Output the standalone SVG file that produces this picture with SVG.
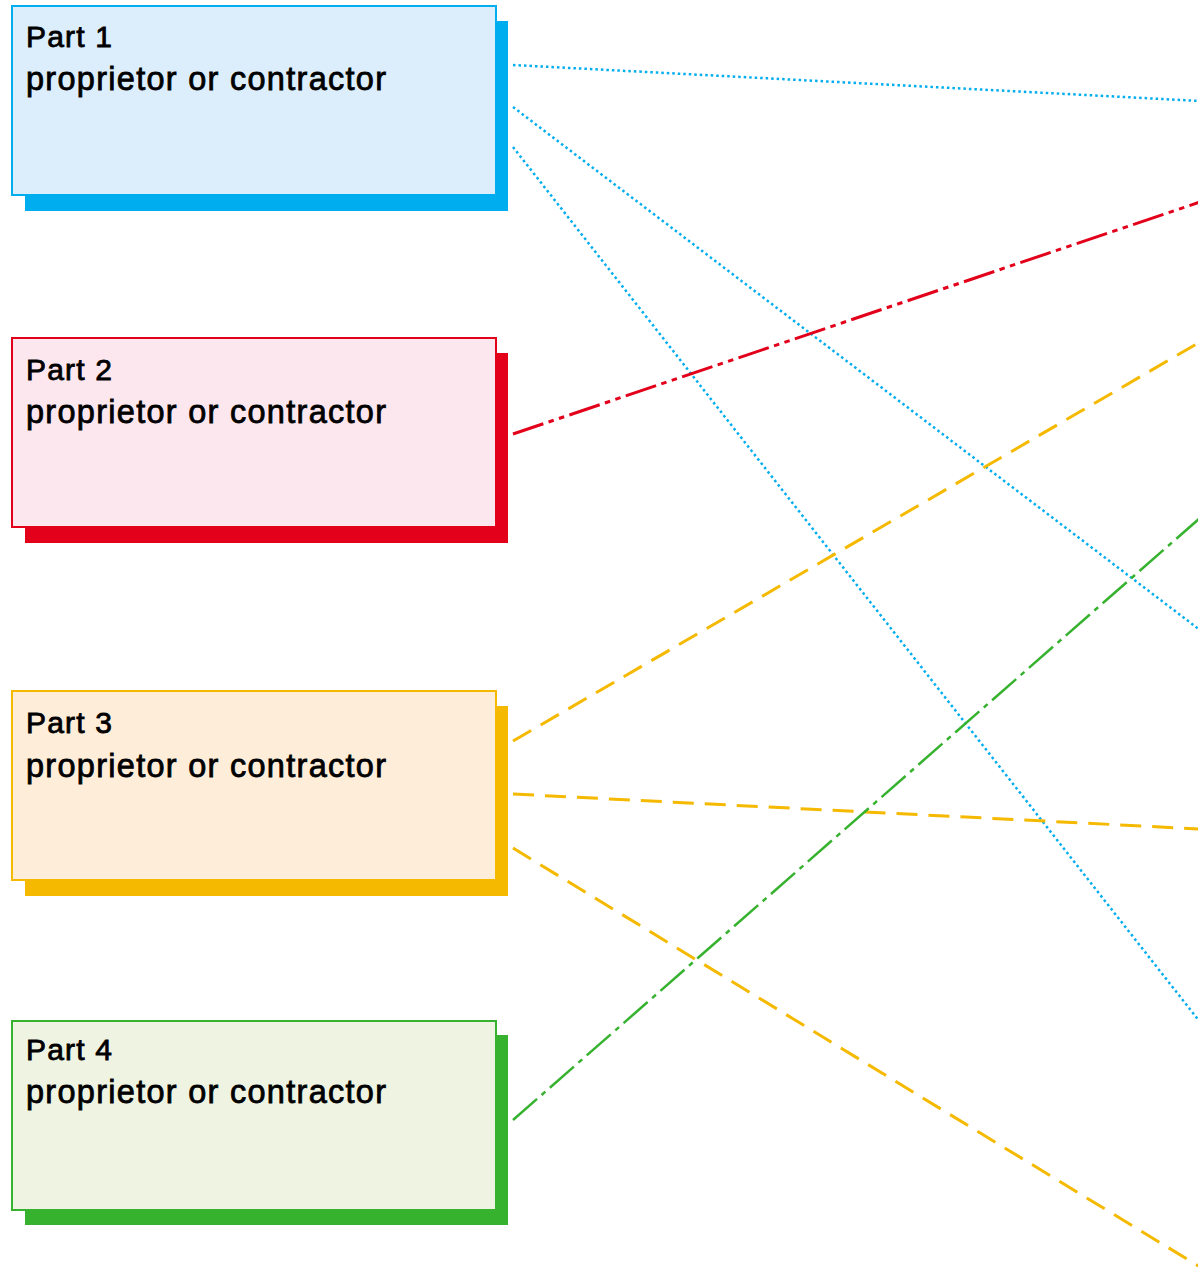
<svg xmlns="http://www.w3.org/2000/svg" width="1198" height="1267" viewBox="0 0 1198 1267">
  <style>
    .t1 { font-family: "Liberation Sans", Arial, sans-serif; font-size: 30px; fill: #000; stroke: #000; stroke-width: 0.8; }
    .t2 { font-family: "Liberation Sans", Arial, sans-serif; font-size: 32.5px; fill: #000; stroke: #000; stroke-width: 0.8; }
    .c { fill: none; }
    .blue { stroke: #00ADEF; stroke-width: 2.5; stroke-dasharray: 2.5 3; }
    .red { stroke: #E2001A; stroke-width: 3; stroke-dasharray: 32 5.5 5.5 5.5 5.5 5.5; }
    .yellow { stroke: #F5B900; stroke-width: 3; stroke-dasharray: 21 11; }
    .green { stroke: #36B22F; stroke-width: 2.5; stroke-dasharray: 32 6 5 6; }
  </style>
  <rect width="1198" height="1267" fill="#fff"/>
  <g id="connectors" class="c">
    <line class="blue" x1="513" y1="65" x2="1200" y2="101"/>
    <line class="blue" x1="513" y1="107" x2="1200" y2="630"/>
    <line class="blue" x1="513" y1="147" x2="1200" y2="1022"/>
    <line class="red" x1="513" y1="434" x2="1200" y2="202"/>
    <line class="yellow" x1="513" y1="741" x2="1200" y2="342"/>
    <line class="yellow" x1="513" y1="794" x2="1200" y2="829"/>
    <line class="yellow" x1="513" y1="848" x2="1200" y2="1267"/>
    <line class="green" x1="513" y1="1120" x2="1200" y2="518"/>
  </g>
  <g id="part1">
    <rect x="25" y="21" width="483" height="190" fill="#00ADEF"/>
    <rect x="12" y="6" width="484" height="189" fill="#DCEEFB" stroke="#00ADEF" stroke-width="2"/>
    <text class="t1" x="26" y="47" textLength="86" lengthAdjust="spacing">Part 1</text>
    <text class="t2" x="26" y="90" textLength="360" lengthAdjust="spacing">proprietor or contractor</text>
  </g>
  <g id="part2">
    <rect x="25" y="353" width="483" height="190" fill="#E2001A"/>
    <rect x="12" y="338" width="484" height="189" fill="#FDE7EE" stroke="#E2001A" stroke-width="2"/>
    <text class="t1" x="26" y="380" textLength="86" lengthAdjust="spacing">Part 2</text>
    <text class="t2" x="26" y="423" textLength="360" lengthAdjust="spacing">proprietor or contractor</text>
  </g>
  <g id="part3">
    <rect x="25" y="706" width="483" height="190" fill="#F5B900"/>
    <rect x="12" y="691" width="484" height="189" fill="#FDEDD9" stroke="#F5B900" stroke-width="2"/>
    <text class="t1" x="26" y="733" textLength="86" lengthAdjust="spacing">Part 3</text>
    <text class="t2" x="26" y="777" textLength="360" lengthAdjust="spacing">proprietor or contractor</text>
  </g>
  <g id="part4">
    <rect x="25" y="1035" width="483" height="190" fill="#36B22F"/>
    <rect x="12" y="1021" width="484" height="189" fill="#EFF4E2" stroke="#36B22F" stroke-width="2"/>
    <text class="t1" x="26" y="1060" textLength="86" lengthAdjust="spacing">Part 4</text>
    <text class="t2" x="26" y="1103" textLength="360" lengthAdjust="spacing">proprietor or contractor</text>
  </g>
</svg>
